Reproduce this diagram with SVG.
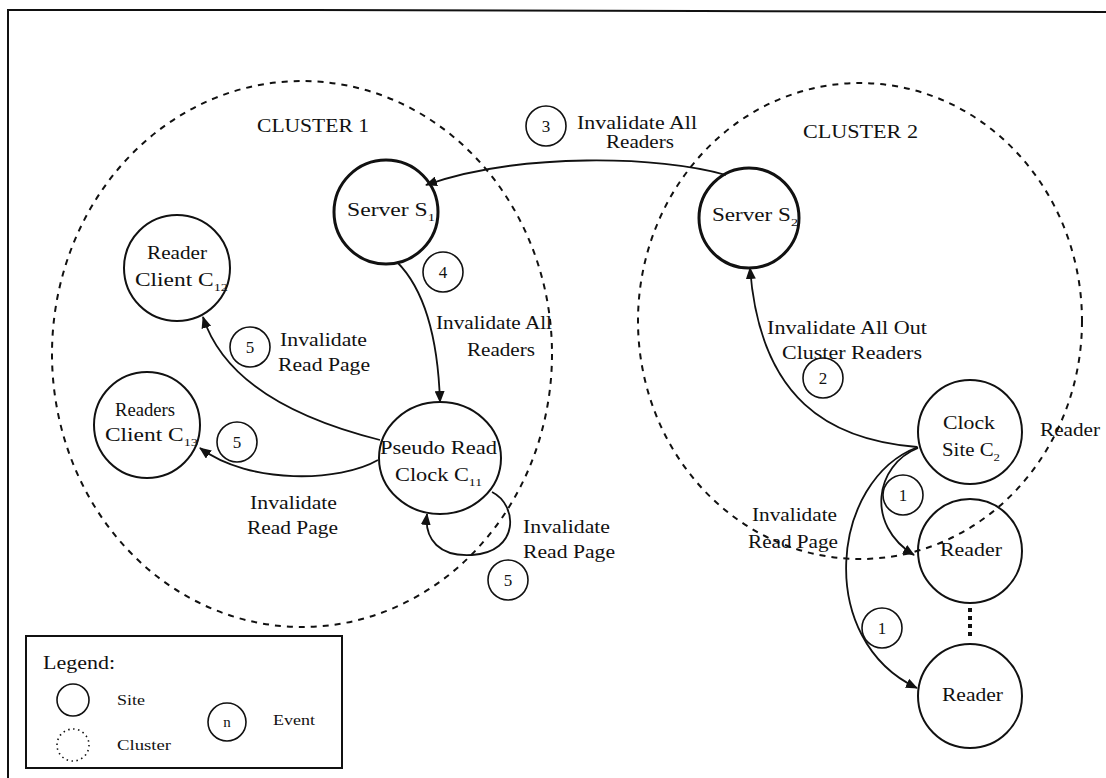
<svg xmlns="http://www.w3.org/2000/svg" width="1106" height="778" viewBox="0 0 1106 778">
  <style>
    .bg { fill: #ffffff; }
    .frame { fill: none; stroke: #111; stroke-width: 2; }
    .cluster { fill: none; stroke: #111; stroke-width: 2; stroke-dasharray: 6 6; }
    .site { fill: none; stroke: #111; stroke-width: 2; }
    .server { fill: none; stroke: #111; stroke-width: 3; }
    .event { fill: none; stroke: #111; stroke-width: 1.6; }
    .edge { fill: none; stroke: #111; stroke-width: 1.8; }
    .dots { fill: none; stroke: #111; stroke-width: 4; stroke-dasharray: 4 4; }
    text { font-family: "Liberation Serif", "Times New Roman", serif; font-size: 18px; fill: #111; }
    .num { font-size: 17px; text-anchor: middle; }
    .small { font-size: 15px; }
    .sub { font-size: 11px; }
  </style>
  <defs>
    <marker id="arrow" viewBox="0 0 12 10" refX="11" refY="5" markerWidth="12" markerHeight="10" markerUnits="userSpaceOnUse" orient="auto">
      <path d="M0,0 L12,5 L0,10 Z" fill="#111"/>
    </marker>
  </defs>

  <rect class="bg" x="0" y="0" width="1106" height="778"/>

  <!-- page frame -->
  <path class="frame" d="M8,778 L8,10 L310,10 L700,11 L1106,12"/>

  <!-- clusters -->
  <g id="cluster1">
    <ellipse class="cluster" cx="302" cy="354" rx="250" ry="273"/>
    <text x="257" y="132" textLength="112" lengthAdjust="spacingAndGlyphs">CLUSTER 1</text>
  </g>
  <g id="cluster2">
    <ellipse class="cluster" cx="860" cy="321" rx="222" ry="238"/>
    <text x="803" y="138" textLength="115" lengthAdjust="spacingAndGlyphs">CLUSTER 2</text>
  </g>

  <!-- connectors -->
  <g id="connectors">
    <path class="edge" d="M726,175 C660,156 520,152 426,185" marker-end="url(#arrow)"/>
    <path class="edge" d="M397,262 C425,290 438,340 440,402" marker-end="url(#arrow)"/>
    <path class="edge" d="M380,440 C300,420 225,385 203,317" marker-end="url(#arrow)"/>
    <path class="edge" d="M378,460 C340,482 250,485 200,448" marker-end="url(#arrow)"/>
    <path class="edge" d="M492,492 C518,505 520,552 472,555 C440,557 424,540 427,514" marker-end="url(#arrow)"/>
    <path class="edge" d="M917,447 C830,440 760,400 750,268" marker-end="url(#arrow)"/>
    <path class="edge" d="M918,448 C875,465 865,525 914,555" marker-end="url(#arrow)"/>
    <path class="edge" d="M918,447 C830,480 815,640 917,688" marker-end="url(#arrow)"/>
    <path class="dots" d="M970,608 L970,640"/>
  </g>

  <!-- event labels -->
  <g id="event3">
    <circle class="event" cx="546" cy="126" r="20"/>
    <text class="num" x="546" y="132">3</text>
    <text x="577" y="129" textLength="120" lengthAdjust="spacingAndGlyphs">Invalidate All</text>
    <text x="606" y="148" textLength="68" lengthAdjust="spacingAndGlyphs">Readers</text>
  </g>
  <g id="event4">
    <circle class="event" cx="443" cy="272" r="20"/>
    <text class="num" x="443" y="278">4</text>
    <text x="436" y="329" textLength="116" lengthAdjust="spacingAndGlyphs">Invalidate All</text>
    <text x="467" y="356" textLength="68" lengthAdjust="spacingAndGlyphs">Readers</text>
  </g>
  <g id="event5a">
    <circle class="event" cx="250" cy="347" r="20"/>
    <text class="num" x="250" y="353">5</text>
    <text x="280" y="346" textLength="87" lengthAdjust="spacingAndGlyphs">Invalidate</text>
    <text x="278" y="371" textLength="92" lengthAdjust="spacingAndGlyphs">Read Page</text>
  </g>
  <g id="event5b">
    <circle class="event" cx="237" cy="442" r="20"/>
    <text class="num" x="237" y="448">5</text>
    <text x="250" y="509" textLength="87" lengthAdjust="spacingAndGlyphs">Invalidate</text>
    <text x="247" y="534" textLength="91" lengthAdjust="spacingAndGlyphs">Read Page</text>
  </g>
  <g id="event5c">
    <circle class="event" cx="508" cy="580" r="20"/>
    <text class="num" x="508" y="586">5</text>
    <text x="523" y="533" textLength="87" lengthAdjust="spacingAndGlyphs">Invalidate</text>
    <text x="523" y="558" textLength="92" lengthAdjust="spacingAndGlyphs">Read Page</text>
  </g>
  <g id="event2">
    <circle class="event" cx="823" cy="378" r="20"/>
    <text class="num" x="823" y="384">2</text>
    <text x="767" y="334" textLength="160" lengthAdjust="spacingAndGlyphs">Invalidate All Out</text>
    <text x="782" y="359" textLength="140" lengthAdjust="spacingAndGlyphs">Cluster Readers</text>
  </g>
  <g id="event1a">
    <circle class="event" cx="903" cy="495" r="20"/>
    <text class="num" x="903" y="501">1</text>
  </g>
  <g id="event1b">
    <circle class="event" cx="882" cy="628" r="20"/>
    <text class="num" x="882" y="634">1</text>
    <text x="752" y="521" textLength="85" lengthAdjust="spacingAndGlyphs">Invalidate</text>
    <text x="748" y="548" textLength="90" lengthAdjust="spacingAndGlyphs">Read Page</text>
  </g>

  <!-- sites -->
  <g id="server-s1">
    <circle class="server" cx="386" cy="212" r="52"/>
    <text x="347" y="216" textLength="88" lengthAdjust="spacingAndGlyphs">Server S<tspan class="sub" dy="5">1</tspan></text>
  </g>
  <g id="server-s2">
    <circle class="server" cx="749" cy="218" r="50"/>
    <text x="712" y="221" textLength="86" lengthAdjust="spacingAndGlyphs">Server S<tspan class="sub" dy="5">2</tspan></text>
  </g>
  <g id="reader-c12">
    <circle class="site" cx="177" cy="268" r="53"/>
    <text x="147" y="259" textLength="60" lengthAdjust="spacingAndGlyphs">Reader</text>
    <text x="135" y="286" textLength="93" lengthAdjust="spacingAndGlyphs">Client C<tspan class="sub" dy="5">12</tspan></text>
  </g>
  <g id="reader-c13">
    <circle class="site" cx="147" cy="425" r="53"/>
    <text x="115" y="416" textLength="60" lengthAdjust="spacingAndGlyphs">Readers</text>
    <text x="105" y="441" textLength="93" lengthAdjust="spacingAndGlyphs">Client C<tspan class="sub" dy="5">13</tspan></text>
  </g>
  <g id="pseudo-c11">
    <ellipse class="site" cx="440" cy="458" rx="61" ry="56"/>
    <text x="380" y="454" textLength="117" lengthAdjust="spacingAndGlyphs">Pseudo Read</text>
    <text x="395" y="481" textLength="87" lengthAdjust="spacingAndGlyphs">Clock C<tspan class="sub" dy="5">11</tspan></text>
  </g>
  <g id="clock-c2">
    <circle class="site" cx="970" cy="432" r="52"/>
    <text x="943" y="429" textLength="52" lengthAdjust="spacingAndGlyphs">Clock</text>
    <text x="942" y="456" textLength="58" lengthAdjust="spacingAndGlyphs">Site C<tspan class="sub" dy="5">2</tspan></text>
  </g>
  <g id="reader-outside">
    <text x="1040" y="436" textLength="60" lengthAdjust="spacingAndGlyphs">Reader</text>
  </g>
  <g id="reader-1">
    <circle class="site" cx="970" cy="551" r="52"/>
    <text x="940" y="556" textLength="62" lengthAdjust="spacingAndGlyphs">Reader</text>
  </g>
  <g id="reader-2">
    <circle class="site" cx="970" cy="696" r="52"/>
    <text x="942" y="701" textLength="61" lengthAdjust="spacingAndGlyphs">Reader</text>
  </g>

  <!-- legend -->
  <g id="legend">
    <rect class="frame" x="26" y="636" width="316" height="132"/>
    <text x="43" y="669" textLength="72" lengthAdjust="spacingAndGlyphs">Legend:</text>
    <circle class="event" cx="73" cy="700" r="16"/>
    <text class="small" x="117" y="705" textLength="28" lengthAdjust="spacingAndGlyphs">Site</text>
    <circle cx="73" cy="745" r="16" fill="none" stroke="#111" stroke-width="1.6" stroke-dasharray="1.5 3.5"/>
    <text class="small" x="117" y="750" textLength="54" lengthAdjust="spacingAndGlyphs">Cluster</text>
    <circle class="event" cx="227" cy="722" r="19"/>
    <text class="small" x="227" y="727" text-anchor="middle">n</text>
    <text class="small" x="273" y="725" textLength="42" lengthAdjust="spacingAndGlyphs">Event</text>
  </g>
</svg>
